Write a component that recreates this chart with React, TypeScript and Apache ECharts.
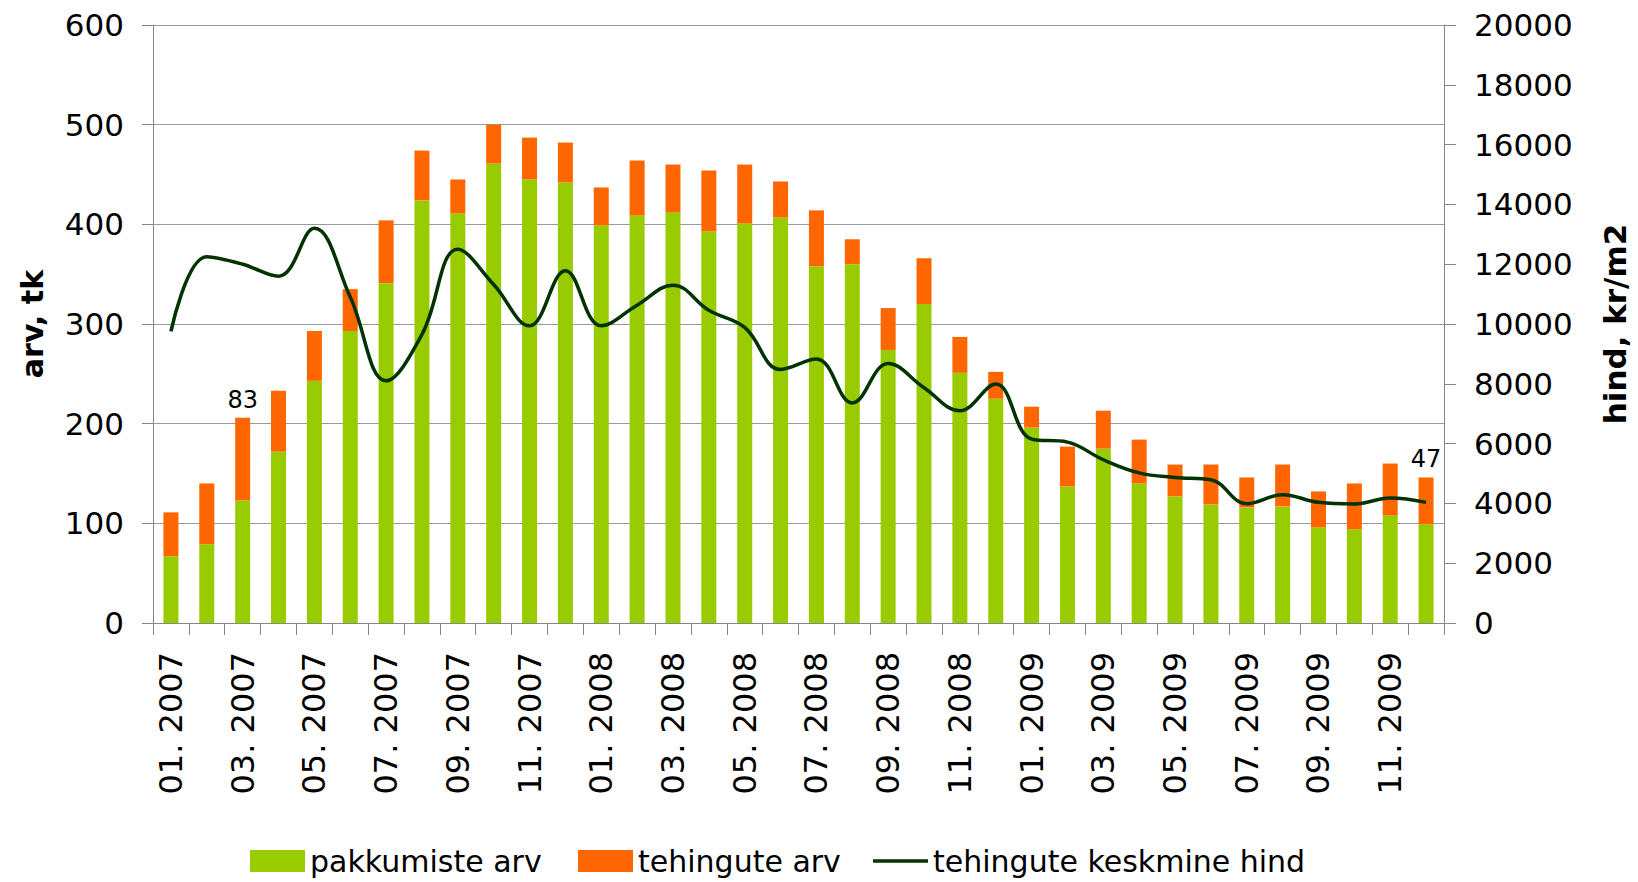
import React, { useEffect, useRef } from "react";
import * as echarts from "echarts";

const categories = [
  "01. 2007", "02. 2007", "03. 2007", "04. 2007", "05. 2007", "06. 2007",
  "07. 2007", "08. 2007", "09. 2007", "10. 2007", "11. 2007", "12. 2007",
  "01. 2008", "02. 2008", "03. 2008", "04. 2008", "05. 2008", "06. 2008",
  "07. 2008", "08. 2008", "09. 2008", "10. 2008", "11. 2008", "12. 2008",
  "01. 2009", "02. 2009", "03. 2009", "04. 2009", "05. 2009", "06. 2009",
  "07. 2009", "08. 2009", "09. 2009", "10. 2009", "11. 2009", "12. 2009",
];

const pakkumisteArv = [
  67, 79, 123, 172, 243, 293, 341, 424, 411, 461, 445, 442,
  399, 409, 412, 393, 401, 407, 358, 360, 274, 320, 251, 225,
  196, 137, 175, 140, 127, 119, 116, 117, 96, 94, 108, 99,
];

const tehinguteArv = [
  44, 61, 83, 61, 50, 42, 63, 50, 34, 39, 42, 40,
  38, 55, 48, 61, 59, 36, 56, 25, 42, 46, 36, 27,
  21, 40, 38, 44, 32, 40, 30, 42, 36, 46, 52, 47,
];

const keskmineHind = [
  9750, 12250, 12000, 11600, 13200, 10900, 8100, 9650, 12500, 11320, 9940, 11780,
  9940, 10630, 11300, 10460, 9885, 8480, 8830, 7360, 8680, 7870, 7100, 7990,
  6150, 6050, 5460, 5020, 4870, 4790, 3990, 4290, 4035, 3980, 4180, 4035,
];

const labelledIndices = [2, 35];

const FONT = "DejaVu Sans";

export default function App() {
  const ref = useRef<HTMLDivElement>(null);

  useEffect(() => {
    if (!ref.current) return;
    const chart = echarts.init(ref.current, null, { renderer: "svg" });

    const orangeData = tehinguteArv.map((v, i) =>
      labelledIndices.includes(i)
        ? {
            value: v,
            label: {
              show: true,
              position: "top",
              distance: 6,
              color: "#000",
              fontSize: 24,
              fontFamily: FONT,
            },
          }
        : v
    );

    const legendBase = {
      top: 846,
      padding: 0,
      itemWidth: 55,
      itemHeight: 22,
      textStyle: { fontSize: 30, color: "#000", fontFamily: FONT },
    };

    chart.setOption({
      animation: false,
      backgroundColor: "#fff",
      textStyle: { fontFamily: FONT },
      grid: { left: 153, right: 192, top: 25, bottom: 259, containLabel: false },
      legend: [
        { ...legendBase, left: 250, data: [{ name: "pakkumiste arv", icon: "rect" }] },
        { ...legendBase, left: 578, data: [{ name: "tehingute arv", icon: "rect" }] },
        {
          ...legendBase,
          left: 873,
          data: [
            {
              name: "tehingute keskmine hind",
              icon: "path://M0,0 L60,0 L60,4 L0,4 Z",
              itemStyle: { color: "#003300" },
            },
          ],
        },
      ],
      xAxis: {
        type: "category",
        data: categories,
        boundaryGap: true,
        axisLine: { lineStyle: { color: "#868686", width: 1 } },
        axisTick: { show: true, interval: 0, length: 12, lineStyle: { color: "#868686" } },
        axisLabel: {
          interval: 1,
          rotate: 90,
          fontSize: 32,
          color: "#000",
          fontFamily: FONT,
          margin: 29,
        },
        splitLine: { show: false },
      },
      yAxis: [
        {
          type: "value",
          min: 0,
          max: 600,
          interval: 100,
          position: "left",
          name: "arv, tk",
          nameLocation: "middle",
          nameRotate: 90,
          nameGap: 106,
          nameTextStyle: { fontSize: 30, fontWeight: "bold", color: "#000", fontFamily: FONT },
          axisLine: { show: true, lineStyle: { color: "#868686" } },
          axisTick: { show: true, length: 11, lineStyle: { color: "#868686" } },
          axisLabel: { fontSize: 31, color: "#000", fontFamily: FONT, margin: 29 },
          splitLine: { show: true, lineStyle: { color: "#9a9a9a", width: 1 } },
        },
        {
          type: "value",
          min: 0,
          max: 20000,
          interval: 2000,
          position: "right",
          name: "hind, kr/m2",
          nameLocation: "middle",
          nameRotate: 90,
          nameGap: 155,
          nameTextStyle: { fontSize: 31, fontWeight: "bold", color: "#000", fontFamily: FONT },
          axisLine: { show: true, lineStyle: { color: "#868686" } },
          axisTick: { show: true, length: 12, lineStyle: { color: "#868686" } },
          axisLabel: {
            fontSize: 31,
            color: "#000",
            fontFamily: FONT,
            margin: 30,
            formatter: (v: number) => String(v),
          },
          splitLine: { show: false },
        },
      ],
      series: [
        {
          name: "pakkumiste arv",
          type: "bar",
          stack: "arv",
          barWidth: 15,
          itemStyle: { color: "#99CC00" },
          data: pakkumisteArv,
        },
        {
          name: "tehingute arv",
          type: "bar",
          stack: "arv",
          barWidth: 15,
          itemStyle: { color: "#FF6600" },
          data: orangeData,
        },
        {
          name: "tehingute keskmine hind",
          type: "line",
          yAxisIndex: 1,
          smooth: 0.4,
          symbol: "none",
          lineStyle: { color: "#003300", width: 3.5 },
          itemStyle: { color: "#003300" },
          data: keskmineHind,
        },
      ],
    });

    return () => chart.dispose();
  }, []);

  return (
    <div
      ref={ref}
      style={{ width: 1638, height: 882, position: "absolute", left: 0, top: 0 }}
    />
  );
}
